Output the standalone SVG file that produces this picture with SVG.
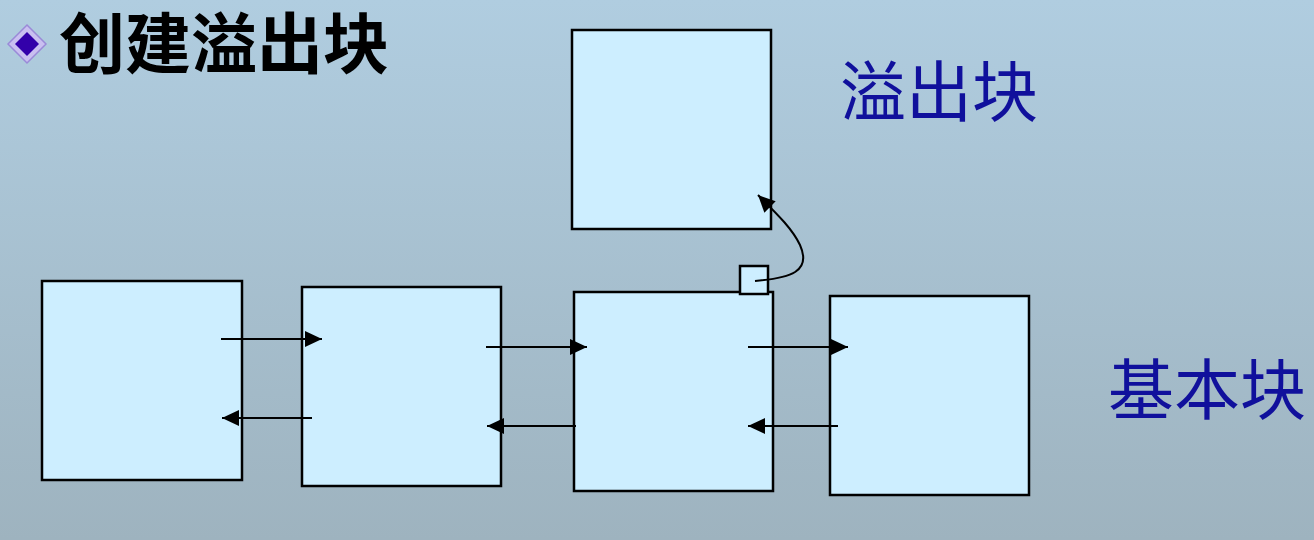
<svg xmlns="http://www.w3.org/2000/svg" width="1314" height="540" viewBox="0 0 1314 540">
<defs>
<linearGradient id="bg" x1="0" y1="0" x2="0" y2="1">
<stop offset="0" stop-color="#b0cde0"/>
<stop offset="1" stop-color="#9eb3bf"/>
</linearGradient>
<marker id="ah" viewBox="0 0 17 16" refX="17" refY="8" markerWidth="17" markerHeight="16" markerUnits="userSpaceOnUse" orient="auto">
<path d="M0,0 L17,8 L0,16 Z" fill="#000"/>
</marker>
<style>
.box{fill:#cdeeff;stroke:#000;stroke-width:2.5}
.ln{fill:none;stroke:#000;stroke-width:2;marker-end:url(#ah)}
.lbl{font-family:"Noto Sans CJK SC","Noto Sans",sans-serif;font-size:66px;fill:#10109c}
.ttl{font-family:"Noto Sans CJK SC","Noto Sans",sans-serif;font-size:66px;font-weight:bold;fill:#000}
</style>
</defs>
<rect width="1314" height="540" fill="url(#bg)"/>
<g id="title">
<path d="M27,25 L46,44 L27,63 L8,44 Z" fill="#c9bff0" stroke="#9a8ad8" stroke-width="1.5"/>
<path d="M27,32 L39,44 L27,56 L15,44 Z" fill="#3300aa"/>
<text class="ttl" x="59" y="68">创建溢出块</text>
</g>
<g id="overflow-block"><rect class="box" x="572" y="30" width="199" height="199"/></g>
<g id="block-a"><rect class="box" x="42" y="281" width="200" height="199"/></g>
<g id="block-b"><rect class="box" x="302" y="287" width="199" height="199"/></g>
<g id="block-c"><rect class="box" x="574" y="292" width="199" height="199"/></g>
<g id="block-d"><rect class="box" x="830" y="296" width="199" height="199"/></g>
<g id="pointer"><rect class="box" x="740" y="266" width="28" height="28"/></g>
<g id="connectors">
<line class="ln" x1="221" y1="339" x2="322" y2="339"/>
<line class="ln" x1="312" y1="418" x2="222" y2="418"/>
<line class="ln" x1="486" y1="347" x2="587" y2="347"/>
<line class="ln" x1="576" y1="426" x2="487" y2="426"/>
<line class="ln" x1="748" y1="347" x2="848" y2="347"/>
<line class="ln" x1="838" y1="426" x2="748" y2="426"/>
<path class="ln" d="M755,281 C790,278 812,272 800,245 C792,228 775,212 758,195"/>
</g>
<g id="labels">
<text class="lbl" x="840" y="116">溢出块</text>
<text class="lbl" x="1108" y="414">基本块</text>
</g>
</svg>
